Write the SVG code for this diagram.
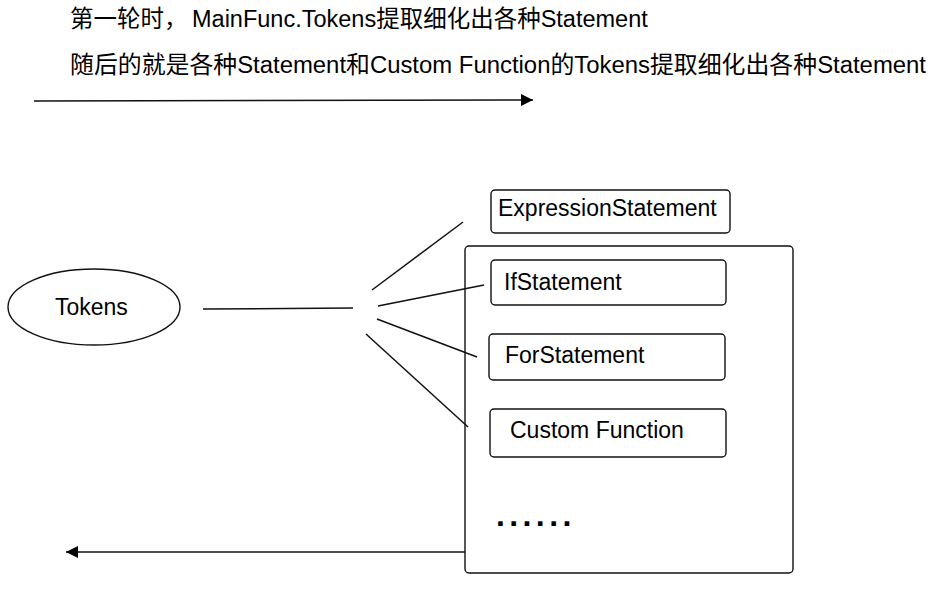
<svg xmlns="http://www.w3.org/2000/svg" width="945" height="590" viewBox="0 0 945 590">
  <style>
    text { font-family: "Liberation Sans", "Noto Sans CJK SC", sans-serif; fill: #000; }
    .title { font-size: 23.5px; }
    .lbl { font-size: 23px; }
    .box { fill: #fff; stroke: #111; stroke-width: 1.4; }
    .conn { fill: none; stroke: #111; stroke-width: 1.5; }
  </style>
  <defs>
    <marker id="arrow" viewBox="0 0 12 12" refX="12" refY="6" markerWidth="12" markerHeight="12" markerUnits="userSpaceOnUse" orient="auto">
      <path d="M0,0 L12,6 L0,12 z" fill="#000"/>
    </marker>
  </defs>
  <rect width="945" height="590" fill="#fff"/>

  <g id="title1">
    <text class="title" x="70" y="27">第一轮时<tspan x="164">，</tspan><tspan x="192">MainFunc.Tokens提取细化出各种Statement</tspan></text>
  </g>
  <g id="title2">
    <text class="title" x="70" y="73" textLength="856" lengthAdjust="spacingAndGlyphs">随后的就是各种Statement和Custom Function的Tokens提取细化出各种Statement</text>
  </g>

  <g id="container">
    <rect class="box" x="465" y="246" width="328" height="327" rx="4"/>
    <text x="496" y="526" font-size="32" font-weight="bold" letter-spacing="4.4">......</text>
  </g>

  <g id="tokens">
    <ellipse class="box" cx="94" cy="307" rx="86" ry="38"/>
    <text class="lbl" x="55" y="315">Tokens</text>
  </g>

  <g id="expression">
    <rect class="box" x="491" y="190" width="239" height="43" rx="4"/>
    <text class="lbl" x="498" y="216">ExpressionStatement</text>
  </g>
  <g id="if">
    <rect class="box" x="491" y="260" width="235" height="45" rx="4"/>
    <text class="lbl" x="504" y="290">IfStatement</text>
  </g>
  <g id="for">
    <rect class="box" x="489" y="334" width="236" height="46" rx="4"/>
    <text class="lbl" x="505" y="363">ForStatement</text>
  </g>
  <g id="custom">
    <rect class="box" x="490" y="409" width="236" height="48" rx="4"/>
    <text class="lbl" x="510" y="438">Custom Function</text>
  </g>

  <g id="connectors">
    <line class="conn" x1="34" y1="101" x2="533" y2="100" marker-end="url(#arrow)"/>
    <line class="conn" x1="465" y1="552" x2="66" y2="552" marker-end="url(#arrow)"/>
    <line class="conn" x1="203" y1="309" x2="353" y2="308"/>
    <line class="conn" x1="372" y1="290" x2="463" y2="222"/>
    <line class="conn" x1="378" y1="306" x2="484" y2="285"/>
    <line class="conn" x1="377" y1="319" x2="477" y2="357"/>
    <line class="conn" x1="366" y1="334" x2="468" y2="427"/>
  </g>
</svg>
